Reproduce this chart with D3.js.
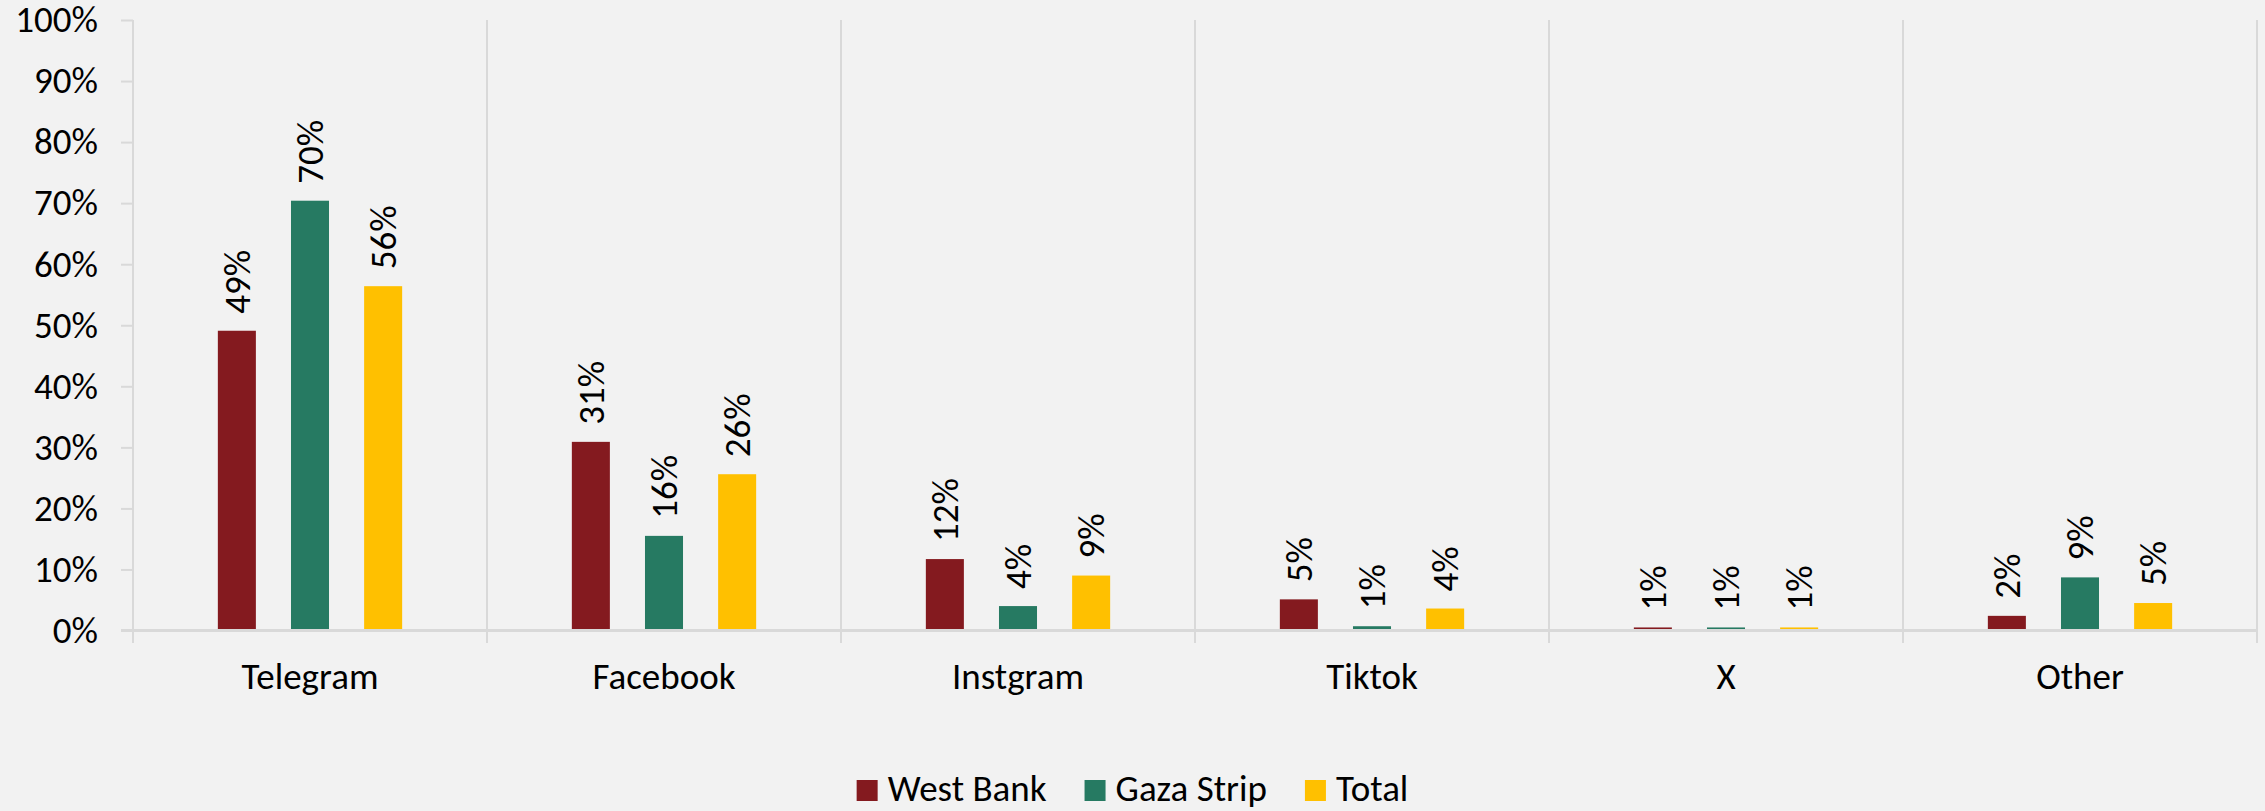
<!DOCTYPE html>
<html>
<head>
<meta charset="utf-8">
<script src="https://cdn.jsdelivr.net/npm/d3@7"></script>
<style>
  body { margin: 0; background: #f2f2f2; }
  svg { display: block; font-family: Carlito, Calibri, "Open Sans", sans-serif; }
</style>
</head>
<body>
<div id="chart"></div>
<script>
const categories = ["Telegram", "Facebook", "Instgram", "Tiktok", "X", "Other"];
const seriesNames = ["West Bank", "Gaza Strip", "Total"];
const westBank = [0.491, 0.309, 0.117, 0.051, 0.005, 0.024];
const gazaStrip = [0.704, 0.155, 0.040, 0.007, 0.005, 0.087];
const total = [0.564, 0.256, 0.090, 0.036, 0.005, 0.045];
const barLabels = [
    ["49%", "31%", "12%", "5%", "1%", "2%"],
    ["70%", "16%", "4%", "1%", "1%", "9%"],
    ["56%", "26%", "9%", "4%", "1%", "5%"]
];
const colors = ["#841a1f", "#267a62", "#ffc000"];
const yTicks = [0, 0.1, 0.2, 0.3, 0.4, 0.5, 0.6, 0.7, 0.8, 0.9, 1];

const values = [westBank, gazaStrip, total];
const W = 2265, H = 811;
const margin = { top: 20, right: 8, left: 133 };
const plotBottom = 630.5;
const fontSize = 37;
const grid = "#d9d9d9";

const svg = d3.select("#chart").append("svg")
    .attr("width", W)
    .attr("height", H);

svg.append("rect").attr("width", W).attr("height", H).attr("fill", "#f2f2f2");

const x = d3.scaleBand()
    .domain(categories)
    .range([margin.left, W - margin.right])
    .padding(0);

const xs = d3.scaleBand()
    .domain(seriesNames)
    .range([0, x.bandwidth()])
    .paddingInner(0.48)
    .paddingOuter(1.16);

const y = d3.scaleLinear()
    .domain([0, 1])
    .range([plotBottom, margin.top]);

// category separators (incl. left and right edges)
const bounds = categories.map(c => x(c)).concat([x.range()[1]]);
svg.append("g").selectAll("line")
    .data(bounds)
    .enter().append("line")
    .attr("x1", d => d).attr("x2", d => d)
    .attr("y1", margin.top).attr("y2", 643)
    .attr("stroke", grid)
    .attr("stroke-width", 2);

// y axis
const yAxis = svg.append("g")
    .attr("transform", `translate(${margin.left},0)`)
    .call(d3.axisLeft(y).tickValues(yTicks).tickFormat(d3.format(".0%")).tickSize(12).tickPadding(23));
yAxis.select(".domain").remove();
yAxis.selectAll(".tick line").attr("stroke", grid).attr("stroke-width", 2);
yAxis.selectAll(".tick text")
    .attr("fill", "#000")
    .style("font-size", fontSize + "px")
    .style("font-family", "Carlito, Calibri, 'Open Sans', sans-serif");

// bars
const groups = svg.append("g").selectAll("g")
    .data(seriesNames)
    .enter().append("g")
    .attr("fill", (d, i) => colors[i]);

groups.selectAll("rect")
    .data((s, i) => categories.map((c, j) => ({ c, s, v: values[i][j], label: barLabels[i][j] })))
    .enter().append("rect")
    .attr("x", d => x(d.c) + xs(d.s))
    .attr("width", xs.bandwidth())
    .attr("y", d => y(d.v))
    .attr("height", d => plotBottom - y(d.v));

// x axis baseline
svg.append("line")
    .attr("x1", margin.left - 12).attr("x2", W - margin.right)
    .attr("y1", plotBottom).attr("y2", plotBottom)
    .attr("stroke", grid)
    .attr("stroke-width", 3);

// bar value labels
groups.selectAll("text")
    .data((s, i) => categories.map((c, j) => ({ c, s, v: values[i][j], label: barLabels[i][j] })))
    .enter().append("text")
    .attr("transform", d => `translate(${x(d.c) + xs(d.s) + xs.bandwidth() / 2},${y(d.v) - 17}) rotate(-90)`)
    .attr("dy", "0.35em")
    .attr("fill", "#000")
    .style("font-size", fontSize + "px")
    .text(d => d.label);

// category labels
const xAxis = svg.append("g")
    .attr("transform", `translate(0,${plotBottom})`)
    .call(d3.axisBottom(x).tickSize(0).tickPadding(0));
xAxis.select(".domain").remove();
xAxis.selectAll(".tick text")
    .attr("y", 58)
    .attr("dy", 0)
    .attr("fill", "#000")
    .style("font-size", fontSize + "px")
    .style("font-family", "Carlito, Calibri, 'Open Sans', sans-serif");

// legend
const legend = svg.append("g");
let lx = 0;
seriesNames.forEach((s, i) => {
    const item = legend.append("g").attr("transform", `translate(${lx},0)`);
    item.append("rect")
        .attr("x", 0).attr("y", 780)
        .attr("width", 21).attr("height", 21)
        .attr("fill", colors[i]);
    const t = item.append("text")
        .attr("x", 31).attr("y", 801)
        .attr("fill", "#000")
        .style("font-size", fontSize + "px")
        .text(s);
    lx += 31 + t.node().getComputedTextLength() + 38;
});
const legendWidth = lx - 38;
legend.attr("transform", `translate(${W / 2 - legendWidth / 2},0)`);
</script>
</body>
</html>
